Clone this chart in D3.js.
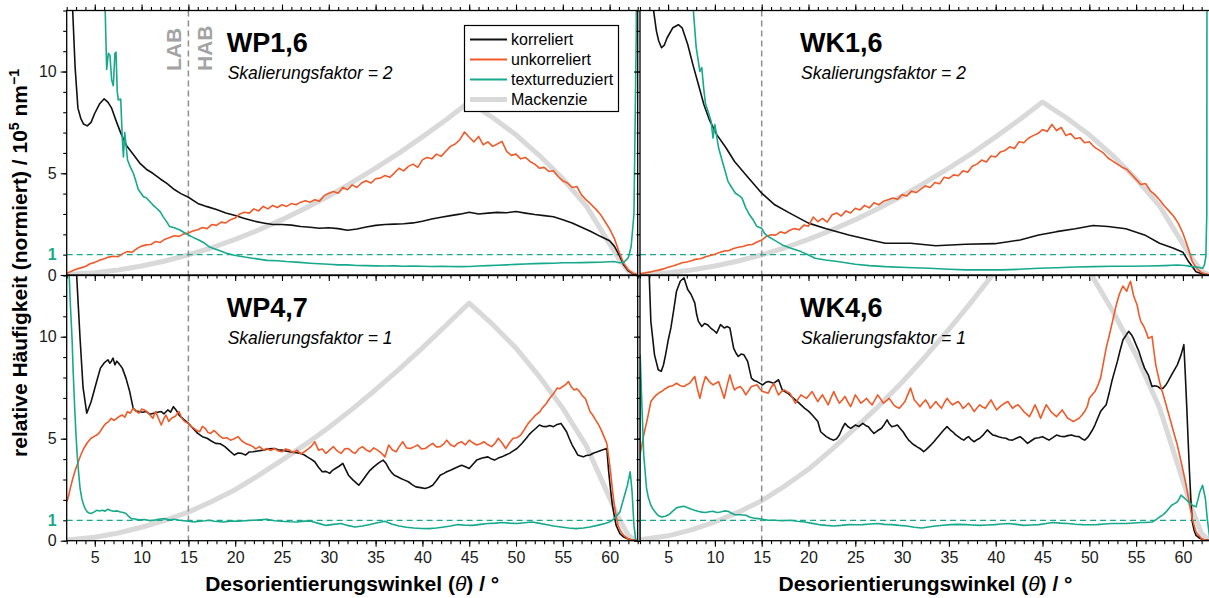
<!DOCTYPE html>
<html>
<head>
<meta charset="utf-8">
<script src="https://cdn.jsdelivr.net/npm/d3@7"></script>
<style>
  html, body { margin: 0; padding: 0; background: #fff; }
  svg { display: block; font-family: "Liberation Sans", Arial, Helvetica, sans-serif; }
</style>
</head>
<body>
<svg id="chart" width="1209" height="598"></svg>
<script>
// ---------- axis ticks / labels ----------
const xMajorTicks = [5, 10, 15, 20, 25, 30, 35, 40, 45, 50, 55, 60];
const xMinorTicks = d3.range(2, 64, 1);
const yMajorTicks = [0, 5, 10];
const yMinorTicks = d3.range(0, 14, 1);
const referenceLevel = 1;      // normalised level marked by the dashed line
const boundaryAngle = 15;      // LAB / HAB boundary
const seriesNames = ["korreliert", "unkorreliert", "texturreduziert", "Mackenzie"];

// ---------- Mackenzie reference curve ----------
const mackenzieAngles = [2, 5, 7.5, 10, 12.5, 15, 17.5, 20, 22.5, 25, 27.5, 30, 32.5, 35, 37.5, 40, 42.5, 45, 47.5, 50, 52.5, 55, 57.5, 60, 61, 62, 62.8];
const mackenzieWP16 = [0.02, 0.11, 0.25, 0.44, 0.69, 0.99, 1.34, 1.75, 2.21, 2.72, 3.28, 3.88, 4.55, 5.25, 5.99, 6.79, 7.62, 8.5, 7.74, 6.89, 5.87, 4.73, 3.4, 1.53, 0.79, 0.19, 0];
const mackenzieWK16 = [0.02, 0.11, 0.25, 0.44, 0.69, 0.99, 1.34, 1.75, 2.21, 2.72, 3.28, 3.88, 4.55, 5.25, 5.99, 6.79, 7.62, 8.5, 7.74, 6.89, 5.87, 4.73, 3.4, 1.53, 0.79, 0.19, 0];
const mackenzieWP47 = [0.03, 0.17, 0.38, 0.66, 1.0, 1.4, 1.92, 2.5, 3.2, 3.95, 4.72, 5.55, 6.45, 7.4, 8.4, 9.45, 10.55, 11.65, 10.6, 9.44, 8.04, 6.49, 4.66, 2.1, 1.08, 0.26, 0];
const mackenzieWK46 = [0.04, 0.24, 0.53, 0.92, 1.4, 1.96, 2.69, 3.5, 4.48, 5.53, 6.6, 7.77, 9.03, 10.36, 11.76, 13.23, 14.77, 16.3, 14.84, 13.2, 11.26, 9.09, 6.52, 2.94, 1.51, 0.36, 0];

// ---------- WP1,6 ----------
const wp16Korreliert = [[2,22],[2.4,16],[2.64,13],[2.9,10.2],[3.2,8.2],[3.5,7.7],[3.8,7.42],[4.2,7.33],[4.6,7.5],[5,7.95],[5.5,8.4],[6,8.66],[6.4,8.5],[6.8,8.2],[7.3,7.55],[7.8,6.95],[8.4,6.35],[9,6.0],[9.8,5.5],[10.5,5.2],[11.2,5.0],[12,4.72],[12.7,4.5],[13.5,4.2],[14.2,4.0],[15,3.82],[16,3.52],[17,3.36],[18,3.22],[19,3.05],[20,2.92],[21,2.78],[22,2.65],[23,2.56],[24,2.48],[25,2.48],[26,2.45],[27,2.38],[28,2.35],[29,2.3],[30,2.32],[31,2.28],[32,2.2],[33,2.26],[34,2.36],[35,2.44],[36,2.48],[37,2.5],[38,2.52],[39,2.56],[40,2.64],[41,2.75],[42,2.84],[43,2.92],[44,2.99],[45,3.08],[46,3.0],[47,3.04],[48,3.08],[49,3.06],[50,3.12],[51,3.04],[52,2.97],[53,2.92],[54,2.86],[55,2.72],[56,2.56],[57,2.35],[58,2.14],[59,1.9],[60,1.68],[60.5,1.42],[61,1.0],[61.5,0.5],[62,0.2],[62.5,0.06],[63,0]];
const wp16Unkorreliert = [[2,0.08],[2.5,0.18],[3,0.28],[3.5,0.35],[4,0.42],[4.5,0.55],[5,0.62],[5.5,0.72],[6,0.8],[6.5,0.88],[7,0.92],[7.5,0.9],[8,1.05],[8.5,1.15],[9,1.12],[9.5,1.3],[10,1.42],[10.5,1.48],[11,1.5],[11.5,1.65],[12,1.6],[12.5,1.76],[13,1.84],[13.5,1.93],[14,1.9],[14.5,2.02],[15,2.06],[15.5,2.17],[16,2.22],[16.5,2.33],[17,2.28],[17.5,2.48],[18,2.44],[18.5,2.6],[19,2.56],[19.5,2.72],[20,2.8],[20.5,3.0],[21,3.08],[21.5,3.04],[22,3.25],[22.5,3.15],[23,3.37],[23.5,3.25],[24,3.42],[24.5,3.32],[25,3.45],[25.5,3.37],[26,3.51],[26.5,3.45],[27,3.58],[27.5,3.65],[28,3.58],[28.5,3.7],[29,3.62],[29.5,3.9],[30,4.02],[30.5,4.1],[31,4.02],[31.5,4.3],[32,4.19],[32.5,4.43],[33,4.3],[33.5,4.52],[34,4.63],[34.5,4.52],[35,4.73],[35.5,4.76],[36,4.89],[36.5,4.8],[37,5.01],[37.5,5.25],[38,5.12],[38.5,5.34],[39,5.45],[39.5,5.29],[40,5.66],[40.5,5.78],[41,5.71],[41.5,5.94],[42,5.83],[42.5,6.08],[43,6.32],[43.5,6.44],[44,6.65],[44.5,7.03],[45,6.77],[45.5,6.54],[46,6.81],[46.5,6.4],[47,6.54],[47.5,6.32],[48,6.44],[48.5,6.57],[49,6.08],[49.5,5.88],[50,5.94],[50.5,5.71],[51,5.78],[51.5,5.58],[52,5.45],[52.5,5.25],[53,5.29],[53.5,5.09],[54,5.12],[54.5,4.84],[55,4.63],[55.5,4.52],[56,4.3],[56.5,4.35],[57,3.94],[57.5,3.69],[58,3.48],[58.5,3.25],[59,2.99],[59.5,2.63],[60,2.27],[60.5,1.8],[61,1.15],[61.5,0.57],[62,0.25],[62.5,0.08],[63,0]];
const wp16Texturreduziert = [[2,40],[3,34],[4,28],[5,22],[5.8,16],[6.1,13.2],[6.27,10.1],[6.45,10.9],[6.62,10.8],[6.8,9.6],[6.98,9.3],[7.15,10.9],[7.27,10.95],[7.4,9.0],[7.52,8.6],[7.77,8.65],[7.95,6.6],[8.06,5.8],[8.2,7.0],[8.38,6.2],[8.5,5.65],[8.8,5.3],[9.12,5.0],[9.4,4.6],[9.65,4.2],[10.2,3.85],[10.5,3.8],[10.9,3.6],[11.2,3.45],[11.6,3.28],[12,3.1],[12.3,2.87],[12.7,2.6],[13,2.38],[13.5,2.32],[14.1,2.21],[14.5,2.1],[15,1.97],[15.5,1.85],[16.1,1.72],[16.6,1.6],[17.2,1.39],[17.7,1.3],[18.3,1.2],[19,1.08],[19.8,0.98],[20.5,0.92],[21.5,0.85],[22.5,0.78],[23.4,0.72],[24.5,0.7],[25.5,0.66],[26.9,0.62],[28,0.58],[29,0.55],[30,0.53],[31,0.5],[32,0.5],[33,0.47],[34,0.46],[35,0.45],[36,0.44],[37,0.45],[38,0.43],[39,0.44],[40,0.43],[41,0.42],[42,0.43],[43,0.42],[44,0.41],[45,0.42],[46,0.44],[47,0.46],[48,0.48],[49,0.5],[50,0.52],[51,0.54],[52,0.56],[53,0.57],[54,0.58],[55,0.6],[56,0.6],[57,0.61],[58,0.62],[59,0.63],[60,0.65],[60.5,0.66],[61,0.6],[61.5,0.62],[62,0.85],[62.3,1.4],[62.6,3],[62.85,12],[62.95,30]];

// ---------- WK1,6 ----------
const wk16Korreliert = [[2,25],[2.8,17],[3.36,13.3],[3.75,12.0],[4.0,11.5],[4.3,11.17],[4.6,11.3],[4.9,11.66],[5.5,12.15],[6.1,12.3],[6.5,12.15],[7.1,11.33],[7.65,10.34],[8.24,9.36],[8.83,8.37],[9.4,7.64],[10.2,6.9],[11.2,6.24],[12.1,5.58],[13.3,4.93],[14.2,4.45],[15,4.02],[16.4,3.45],[18,3.04],[20,2.55],[21.9,2.27],[24.3,1.97],[26.6,1.72],[28.2,1.56],[30.9,1.56],[33.6,1.44],[36.8,1.51],[39.9,1.54],[42.6,1.72],[44.6,1.97],[46.5,2.13],[48.5,2.27],[50.4,2.43],[52,2.38],[53.9,2.27],[55.9,1.97],[57.5,1.56],[59,1.31],[60,1.12],[60.6,0.66],[61.4,0.16],[62.2,0.03],[63,0]];
const wk16Unkorreliert = [[2,0.06],[2.5,0.1],[3,0.14],[3.5,0.2],[4,0.24],[4.5,0.3],[5,0.38],[5.5,0.44],[6,0.52],[6.5,0.6],[7,0.64],[7.5,0.7],[8,0.78],[8.5,0.8],[9,0.9],[9.5,0.96],[10,1.02],[10.5,1.1],[11,1.18],[11.5,1.2],[12,1.3],[12.5,1.36],[13,1.4],[13.5,1.48],[14,1.5],[14.5,1.62],[15,1.72],[15.5,1.9],[16,1.98],[16.5,1.96],[17,2.12],[17.5,2.05],[18,2.2],[18.5,2.28],[19,2.22],[19.5,2.45],[20,2.4],[20.5,2.85],[21,2.62],[21.5,2.78],[22,2.6],[22.5,2.95],[23,3.05],[23.5,2.9],[24,3.15],[24.5,3.05],[25,3.28],[25.5,3.2],[26,3.42],[26.5,3.3],[27,3.55],[27.5,3.45],[28,3.62],[28.5,3.7],[29,3.78],[29.5,3.72],[30,3.95],[30.5,3.88],[31,4.12],[31.5,4.05],[32,4.22],[32.5,4.38],[33,4.3],[33.5,4.55],[34,4.48],[34.5,4.8],[35,4.75],[35.5,4.92],[36,4.88],[36.5,5.12],[37,5.05],[37.5,5.35],[38,5.45],[38.5,5.65],[39,5.55],[39.5,5.85],[40,5.8],[40.5,6.05],[41,6.12],[41.5,6.3],[42,6.22],[42.5,6.55],[43,6.5],[43.5,6.72],[44,6.85],[44.5,6.95],[45,7.15],[45.5,7.05],[46,7.4],[46.5,7.1],[47,7.25],[47.5,6.85],[48,6.95],[48.5,6.7],[49,6.75],[49.5,6.5],[50,6.55],[50.5,6.3],[51,6.15],[51.5,6.0],[52,5.75],[52.5,5.6],[53,5.45],[53.5,5.3],[54,5.2],[54.5,4.95],[55,4.7],[55.5,4.45],[56,4.5],[56.5,4.15],[57,3.95],[57.5,3.7],[58,3.4],[58.5,3.15],[59,2.9],[59.5,2.55],[60,2.05],[60.5,1.4],[61,0.66],[61.5,0.3],[62,0.12],[62.5,0.03],[63,0]];
const wk16Texturreduziert = [[2,40],[4,32],[6,22],[7,17],[7.65,13.3],[8.0,11.2],[8.4,10.0],[8.6,10.2],[8.8,9.2],[9.0,8.4],[9.3,8.0],[9.6,7.55],[9.8,6.73],[10.0,7.39],[10.2,6.8],[10.4,6.24],[10.8,5.58],[11.1,5.1],[11.4,4.6],[11.8,4.3],[12.2,4.02],[12.6,3.9],[12.9,3.78],[13.3,3.3],[13.7,2.96],[14.1,2.7],[14.5,2.38],[15,2.3],[15.3,2.05],[15.7,1.89],[16.4,1.7],[17.2,1.48],[18.2,1.3],[19.2,1.15],[20,0.98],[20.7,0.82],[21.8,0.74],[23.1,0.66],[25,0.53],[26.5,0.46],[28.2,0.41],[30.5,0.37],[32.9,0.33],[35,0.28],[36.8,0.25],[38.8,0.25],[40.7,0.25],[42.5,0.28],[44.6,0.33],[46.5,0.36],[48.5,0.39],[50.5,0.41],[52.4,0.43],[54.5,0.43],[56.3,0.44],[58,0.46],[59.4,0.49],[60.2,0.47],[61,0.41],[61.6,0.38],[62.1,0.33],[62.3,0.5],[62.45,0.9],[62.55,3],[62.6,30]];

// ---------- WP4,7 ----------
const wp47Korreliert = [[2,25],[2.6,18],[3.04,13.2],[3.43,9.9],[3.75,7.5],[4.14,6.25],[4.6,6.8],[5.2,7.8],[5.6,8.46],[5.98,8.7],[6.4,8.87],[6.6,8.7],[6.76,8.79],[6.95,8.95],[7.15,8.62],[7.35,8.8],[7.55,8.7],[7.94,8.46],[8.33,7.97],[8.73,7.31],[9.1,6.5],[9.4,6.35],[9.7,6.33],[10.1,6.3],[10.5,6.33],[10.9,6.2],[11.3,6.25],[11.7,6.3],[12.1,6.33],[12.4,6.22],[12.8,6.41],[13.1,6.3],[13.4,6.57],[13.7,6.4],[14,6.16],[14.5,5.95],[15,5.75],[15.5,5.5],[16,5.26],[16.5,5.1],[17,5.02],[17.4,4.9],[17.9,4.77],[18.4,4.75],[18.9,4.61],[19.4,4.4],[19.9,4.2],[20.3,4.3],[20.7,4.28],[21.1,4.2],[21.5,4.35],[21.9,4.36],[22.4,4.4],[23,4.44],[23.5,4.5],[24.2,4.52],[24.6,4.46],[25,4.44],[25.4,4.4],[25.8,4.36],[26.4,4.32],[27,4.28],[27.4,4.2],[27.7,4.11],[28.1,4.0],[28.5,3.87],[28.9,3.6],[29.3,3.38],[29.7,3.4],[30.1,3.3],[30.4,3.45],[30.7,3.54],[31.1,3.65],[31.5,3.79],[31.8,3.5],[32.1,3.21],[32.6,2.97],[32.9,2.85],[33.2,2.72],[33.6,2.95],[34,3.21],[34.4,3.45],[34.8,3.62],[35.3,3.8],[35.8,3.95],[36.1,3.8],[36.4,3.54],[36.7,3.35],[37,3.21],[37.4,3.12],[37.7,3.05],[38.1,2.97],[38.5,2.89],[38.9,2.75],[39.3,2.64],[39.8,2.6],[40.3,2.56],[40.7,2.62],[41.1,2.72],[41.5,2.95],[41.9,3.21],[42.3,3.3],[42.6,3.38],[43,3.45],[43.4,3.54],[43.8,3.62],[44.2,3.7],[44.6,3.62],[45,3.54],[45.4,3.75],[45.8,3.95],[46.4,4.05],[47,4.11],[47.4,4.0],[47.7,3.95],[48.1,4.05],[48.5,4.11],[48.9,4.2],[49.3,4.28],[49.7,4.4],[50.1,4.52],[50.6,4.75],[51.1,5.02],[51.4,5.2],[51.7,5.34],[52.1,5.5],[52.5,5.67],[52.9,5.6],[53.2,5.59],[53.6,5.65],[54,5.59],[54.4,5.7],[54.8,5.75],[55.1,5.55],[55.4,5.34],[55.7,5.0],[56,4.69],[56.3,4.45],[56.6,4.2],[56.9,4.15],[57.2,4.11],[57.5,4.18],[57.9,4.2],[58.3,4.3],[58.7,4.36],[59.2,4.45],[59.7,4.52],[59.9,3.38],[60.1,2.5],[60.3,1.74],[60.5,1.2],[60.7,0.75],[61.1,0.34],[61.5,0.18],[61.9,0.1],[62.4,0.03],[63,0]];
const wp47Unkorreliert = [[2,1.9],[2.18,2.15],[2.4,2.6],[2.65,3.05],[2.95,3.5],[3.24,3.87],[3.5,4.2],[3.82,4.52],[4.2,4.8],[4.6,5.02],[4.9,5.1],[5.2,5.18],[5.5,5.3],[5.8,5.51],[6.0,5.65],[6.2,5.75],[6.5,5.85],[6.76,6.0],[7.05,5.9],[7.35,6.0],[7.65,6.1],[7.94,6.16],[8.2,6.05],[8.5,6.33],[8.8,6.25],[9.1,6.5],[9.4,6.35],[9.7,6.25],[10.0,6.45],[10.3,6.41],[10.6,6.3],[10.9,6.16],[11.2,6.0],[11.5,6.33],[11.8,6.0],[12.1,5.67],[12.4,6.0],[12.6,6.16],[12.9,5.85],[13.2,6.0],[13.6,6.1],[14,6.33],[14.3,6.0],[14.6,5.84],[15,5.75],[15.3,5.6],[15.6,5.51],[15.9,5.4],[16.2,5.34],[16.5,5.6],[16.8,5.51],[17.1,5.3],[17.4,5.26],[17.7,5.4],[17.9,5.34],[18.3,5.15],[18.7,5.02],[19.1,5.05],[19.5,4.93],[19.9,5.0],[20.3,5.1],[20.7,4.9],[21.1,4.77],[21.5,4.7],[21.9,4.61],[22.2,4.5],[22.6,4.61],[23,4.45],[23.4,4.52],[23.8,4.42],[24.2,4.52],[24.6,4.4],[25,4.36],[25.4,4.5],[25.8,4.44],[26.2,4.3],[26.6,4.44],[27,4.25],[27.4,4.36],[27.8,4.5],[28.1,4.61],[28.5,4.85],[28.9,4.44],[29.3,4.5],[29.7,4.28],[30.1,4.45],[30.5,4.61],[30.9,4.4],[31.3,4.28],[31.7,4.5],[32.1,4.52],[32.5,4.35],[32.8,4.28],[33.2,4.5],[33.6,4.61],[34,4.45],[34.4,4.36],[34.8,4.55],[35.2,4.44],[35.6,4.3],[36,4.11],[36.4,4.69],[36.8,4.45],[37.2,4.36],[37.5,4.6],[37.9,4.85],[38.3,4.55],[38.7,4.52],[39.1,4.6],[39.5,4.69],[39.9,4.5],[40.3,4.52],[40.7,4.65],[41.1,4.77],[41.5,4.6],[41.9,4.61],[42.3,4.75],[42.6,4.93],[43,4.7],[43.4,4.61],[43.8,4.78],[44.2,4.85],[44.6,4.7],[45,4.93],[45.4,4.8],[45.8,4.69],[46.2,4.75],[46.6,4.85],[47,4.7],[47.4,4.61],[47.8,4.8],[48.1,5.02],[48.5,4.8],[48.9,4.52],[49.3,4.8],[49.7,5.02],[50.1,5.05],[50.5,5.18],[50.9,5.45],[51.3,5.75],[51.7,5.95],[52.1,6.16],[52.5,6.3],[52.8,6.5],[53.2,6.7],[53.6,6.98],[54,7.2],[54.4,7.48],[54.7,7.45],[55,7.56],[55.3,7.65],[55.6,7.8],[55.9,7.55],[56.2,7.39],[56.5,7.45],[56.8,7.31],[57.1,7.1],[57.4,6.98],[57.7,6.6],[57.9,6.33],[58.2,6.15],[58.5,5.92],[58.8,5.7],[59.1,5.43],[59.4,5.1],[59.7,4.77],[59.9,4.1],[60.1,3.38],[60.3,2.5],[60.5,1.74],[60.7,1.2],[60.9,0.75],[61.2,0.45],[61.5,0.26],[61.9,0.12],[62.3,0.05],[63,0]];
const wp47Texturreduziert = [[2,30],[2.25,13.2],[2.4,11.5],[2.57,9.93],[2.7,8.2],[2.84,6.66],[2.98,5.3],[3.12,4.2],[3.28,3.3],[3.43,2.56],[3.62,2.05],[3.82,1.74],[4.0,1.55],[4.2,1.41],[4.4,1.36],[4.6,1.33],[4.9,1.4],[5.2,1.49],[5.5,1.46],[5.8,1.49],[6.1,1.45],[6.4,1.54],[6.7,1.48],[7,1.44],[7.4,1.46],[7.75,1.41],[8.05,1.38],[8.33,1.33],[8.6,1.2],[8.9,1.08],[9.3,1.06],[9.7,1.02],[10.3,1.04],[10.9,0.98],[11.5,1.02],[12,1.06],[12.5,1.08],[13,1.03],[13.5,1.05],[14,1.0],[14.5,0.98],[15,0.96],[15.6,0.92],[16.2,0.96],[16.8,0.98],[17.2,1.0],[17.8,0.95],[18.7,0.92],[19.5,0.96],[20.3,0.95],[21.1,0.98],[21.9,1.0],[22.6,1.02],[23.4,1.05],[24.2,0.98],[25,0.95],[25.8,0.93],[26.6,0.92],[27.4,0.96],[28.1,0.95],[28.9,0.85],[29.7,0.75],[30.5,0.8],[31.3,0.84],[32,0.75],[32.8,0.67],[33.6,0.72],[34.4,0.79],[35.2,0.88],[36,0.95],[36.7,0.82],[37.5,0.72],[38.3,0.66],[39.1,0.62],[39.9,0.6],[40.7,0.59],[41.5,0.62],[42.3,0.67],[43,0.72],[43.8,0.79],[44.6,0.76],[45.4,0.75],[46.2,0.8],[47,0.84],[47.8,0.86],[48.5,0.89],[49.3,0.86],[50.1,0.84],[50.9,0.88],[51.7,0.92],[52.4,0.86],[53.2,0.79],[54,0.72],[54.8,0.67],[55.6,0.62],[56.4,0.59],[57.2,0.62],[57.9,0.67],[58.7,0.75],[59.5,0.84],[60,0.92],[60.3,1.0],[60.7,1.2],[61.1,1.41],[61.5,2.07],[61.9,2.72],[62.2,3.38],[62.4,2.39],[62.6,0.75],[62.8,0]];

// ---------- WK4,6 ----------
const wk46Korreliert = [[2,30],[2.6,18],[2.97,13.2],[3.16,10.75],[3.55,9.11],[3.95,8.38],[4.26,8.3],[4.5,8.6],[4.73,9.11],[5.0,9.8],[5.3,10.43],[5.6,11.3],[5.9,12.23],[6.3,12.72],[6.7,12.89],[6.9,12.6],[7.1,12.31],[7.46,12.07],[7.85,11.66],[8.05,11.1],[8.24,10.75],[8.6,10.5],[8.9,10.65],[9.2,10.59],[9.5,10.45],[9.8,10.34],[10.2,10.18],[10.6,10.59],[11,10.43],[11.3,10.5],[11.6,10.43],[12,9.44],[12.25,9.2],[12.5,9.03],[12.8,9.15],[13.1,9.11],[13.5,8.79],[13.9,7.97],[14.2,7.85],[14.5,7.8],[15.1,7.64],[15.4,7.75],[15.7,7.8],[16.3,7.72],[16.8,7.89],[17.2,7.39],[17.8,7.23],[18.4,6.98],[19,6.74],[19.6,6.49],[20,6.35],[20.4,6.16],[21,5.84],[21.3,5.34],[21.9,5.1],[22.3,5.0],[22.7,4.93],[23,5.0],[23.3,5.18],[23.6,5.5],[23.9,5.75],[24.2,5.6],[24.5,5.51],[25,5.67],[25.4,5.6],[25.8,5.75],[26.1,5.65],[26.4,5.59],[26.7,5.4],[27,5.26],[27.4,5.4],[27.8,5.51],[28.1,5.7],[28.4,5.92],[28.6,5.75],[28.9,5.59],[29.2,5.62],[29.5,5.67],[29.8,5.5],[30.1,5.34],[30.4,5.12],[30.7,4.93],[31,4.8],[31.3,4.69],[31.6,4.6],[31.9,4.52],[32.1,4.45],[32.3,4.36],[32.6,4.48],[32.9,4.61],[33.2,4.75],[33.4,4.85],[33.7,5.02],[34,5.18],[34.4,5.4],[34.8,5.59],[35.1,5.45],[35.4,5.34],[35.7,5.2],[36,5.1],[36.3,5.0],[36.6,4.93],[36.9,5.05],[37.1,5.1],[37.4,4.95],[37.7,4.85],[38,4.95],[38.3,5.02],[38.7,5.2],[39.1,5.43],[39.4,5.3],[39.7,5.18],[40,5.15],[40.3,5.1],[40.7,5.05],[41.1,5.02],[41.4,4.95],[41.8,4.93],[42.2,5.02],[42.6,5.1],[43,4.95],[43.4,4.77],[43.8,4.9],[44.2,5.02],[44.6,5.05],[45,5.1],[45.4,5.0],[45.7,4.93],[46.1,5.05],[46.5,5.18],[46.9,5.12],[47.3,5.1],[47.7,5.15],[48.1,5.18],[48.5,5.12],[48.9,5.1],[49.2,5.0],[49.5,4.93],[49.8,5.05],[50,5.18],[50.3,5.4],[50.6,5.67],[50.9,6.0],[51.2,6.33],[51.5,6.5],[51.8,6.66],[52.1,7.2],[52.4,7.8],[52.7,8.3],[53,8.79],[53.3,9.35],[53.6,9.85],[53.9,10.05],[54.2,10.26],[54.5,10.1],[54.7,9.93],[55,9.6],[55.3,9.28],[55.6,8.85],[55.9,8.46],[56.3,8.13],[56.7,7.56],[57,7.6],[57.3,7.56],[57.6,7.45],[57.9,7.48],[58.2,7.65],[58.4,7.8],[58.7,8.05],[59,8.3],[59.4,8.62],[59.8,9.11],[60.1,9.61],[60.25,8.2],[60.4,6.66],[60.55,5.0],[60.7,3.38],[60.85,2.0],[61,0.92],[61.2,0.5],[61.4,0.26],[61.8,0.12],[62.2,0.05],[63,0]];
const wk46Unkorreliert = [[2,4.2],[2.4,5.18],[2.8,6.0],[3.16,6.82],[3.45,7.0],[3.75,7.15],[4.05,7.25],[4.3,7.31],[4.7,7.45],[5.1,7.56],[5.5,7.6],[5.9,7.72],[6.3,7.6],[6.7,7.56],[7.0,7.65],[7.3,7.72],[7.6,7.9],[7.85,8.05],[8.1,7.5],[8.4,6.98],[8.7,7.6],[9,8.05],[9.4,7.8],[9.8,7.64],[10.1,7.72],[10.4,7.8],[10.7,7.4],[11,6.98],[11.3,7.6],[11.6,8.13],[11.85,7.7],[12.1,7.39],[12.4,7.5],[12.7,7.56],[13,7.4],[13.3,7.15],[13.6,7.35],[13.9,7.56],[14.2,7.6],[14.5,7.64],[14.8,7.45],[15.1,7.31],[15.4,7.28],[15.7,7.23],[16,7.5],[16.3,7.72],[16.55,7.4],[16.8,7.15],[17.1,7.3],[17.4,7.39],[17.7,7.3],[18,7.23],[18.3,7.0],[18.6,6.74],[18.9,6.95],[19.2,7.15],[19.5,7.05],[19.8,6.98],[20.1,7.15],[20.4,7.31],[20.7,7.05],[21,6.82],[21.25,7.0],[21.5,7.15],[21.8,6.9],[22.1,6.66],[22.4,7.0],[22.7,7.31],[23,7.0],[23.3,6.74],[23.6,6.9],[23.9,7.07],[24.2,6.8],[24.5,6.57],[24.75,6.85],[25,7.15],[25.3,6.95],[25.6,6.74],[25.9,6.85],[26.2,6.98],[26.5,6.8],[26.8,6.66],[27.1,6.9],[27.4,7.15],[27.7,6.95],[28,6.74],[28.3,6.85],[28.6,6.98],[28.9,6.8],[29.1,6.66],[29.4,6.55],[29.7,6.49],[30,6.65],[30.3,6.82],[30.6,7.15],[30.9,7.48],[31.1,7.2],[31.3,6.9],[31.6,6.75],[31.9,6.57],[32.2,6.75],[32.5,6.9],[32.8,6.7],[33,6.49],[33.3,6.65],[33.6,6.82],[33.9,6.65],[34.2,6.49],[34.5,6.75],[34.8,6.98],[35.1,6.8],[35.4,6.66],[35.7,6.75],[36,6.82],[36.3,6.65],[36.5,6.49],[36.8,6.6],[37.1,6.74],[37.4,6.55],[37.7,6.33],[38,6.5],[38.3,6.66],[38.6,6.55],[38.9,6.49],[39.2,6.7],[39.5,6.9],[39.8,6.65],[40.1,6.41],[40.4,6.55],[40.7,6.66],[41,6.75],[41.3,6.82],[41.55,6.65],[41.8,6.49],[42.1,6.6],[42.4,6.66],[42.7,6.5],[43,6.33],[43.3,6.2],[43.6,6.08],[43.9,6.35],[44.2,6.66],[44.5,6.35],[44.8,6.0],[45.1,6.35],[45.4,6.66],[45.65,6.5],[45.9,6.33],[46.2,6.2],[46.5,6.08],[46.8,6.25],[47.1,6.41],[47.4,6.2],[47.7,6.0],[48,5.92],[48.3,5.84],[48.6,5.92],[48.9,6.0],[49.2,6.15],[49.5,6.33],[49.8,6.6],[50,6.98],[50.3,7.15],[50.6,7.31],[50.9,7.6],[51.2,7.97],[51.5,8.7],[51.8,9.44],[52.1,10.0],[52.4,10.59],[52.6,11.0],[52.8,11.41],[53,11.75],[53.2,12.07],[53.4,12.3],[53.6,12.48],[53.8,12.35],[54,12.23],[54.2,12.5],[54.4,12.72],[54.55,12.4],[54.7,12.07],[54.9,11.8],[55.1,11.57],[55.3,11.1],[55.5,10.75],[55.7,10.6],[55.9,10.43],[56.1,10.2],[56.3,9.93],[56.5,9.95],[56.7,10.02],[56.9,9.3],[57.1,8.62],[57.3,8.2],[57.5,7.8],[57.7,7.45],[57.9,7.15],[58.2,6.66],[58.6,6.0],[59,5.34],[59.4,4.69],[59.8,3.87],[60.2,3.05],[60.6,2.07],[61,1.08],[61.4,0.43],[62,0.1],[62.5,0.02],[63,0]];
const wk46Texturreduziert = [[2,0],[2.02,9.1],[2.2,6.66],[2.4,4.2],[2.7,2.56],[2.9,2.1],[3.16,1.74],[3.45,1.5],[3.75,1.33],[4.0,1.22],[4.3,1.16],[4.7,1.2],[5.1,1.28],[5.5,1.45],[5.9,1.61],[6.3,1.66],[6.7,1.69],[7.1,1.62],[7.5,1.54],[7.9,1.48],[8.2,1.44],[8.6,1.4],[9,1.38],[9.4,1.42],[9.8,1.44],[10.2,1.38],[10.6,1.41],[11,1.46],[11.4,1.44],[11.8,1.35],[12.1,1.28],[12.7,1.27],[13.3,1.25],[13.7,1.16],[14.1,1.11],[14.6,1.08],[15.1,1.05],[15.7,1.0],[16.4,1.0],[17.2,0.98],[18,1.0],[18.8,0.95],[19.6,0.92],[20.4,0.85],[21.1,0.79],[21.9,0.75],[22.7,0.72],[23.5,0.75],[24.3,0.79],[25,0.78],[25.8,0.79],[26.6,0.82],[27.4,0.84],[28.1,0.8],[28.9,0.79],[29.7,0.75],[30.5,0.72],[31.3,0.66],[32.1,0.62],[32.8,0.67],[33.6,0.72],[34.4,0.76],[35.2,0.79],[36,0.8],[36.8,0.79],[37.5,0.77],[38.3,0.75],[39.1,0.77],[39.9,0.79],[40.6,0.82],[41.4,0.84],[42.2,0.8],[43,0.75],[43.8,0.77],[44.6,0.79],[45.4,0.84],[46.1,0.89],[46.9,0.86],[47.7,0.84],[48.5,0.81],[49.3,0.79],[50,0.78],[50.8,0.79],[51.6,0.82],[52.4,0.84],[53.2,0.84],[53.9,0.84],[54.7,0.87],[55.5,0.89],[56.1,0.9],[56.7,0.92],[57.1,1.02],[57.5,1.16],[57.9,1.28],[58.2,1.41],[58.5,1.58],[58.8,1.74],[59.1,1.82],[59.4,1.9],[59.6,2.05],[59.8,2.23],[60,2.15],[60.2,2.07],[60.6,1.9],[61,1.74],[61.4,1.66],[61.6,2.0],[61.8,2.39],[62.1,2.72],[62.4,2.07],[62.6,1.08],[62.9,0]];

// ---------- panel setup ----------
const colours = {
  korreliert: "#111111",
  unkorreliert: "#F05A28",
  texturreduziert: "#17A98C",
  mackenzie: "#D9D9D9",
  boundary: "#8E8E8E",
  labText: "#A3A3A3"
};

const panels = [
  { name: "WP1,6", factor: "Skalierungsfaktor = 2", col: 0, row: 0, kor: wp16Korreliert, unk: wp16Unkorreliert, tex: wp16Texturreduziert, mack: mackenzieWP16, legend: true, lab: true },
  { name: "WK1,6", factor: "Skalierungsfaktor = 2", col: 1, row: 0, kor: wk16Korreliert, unk: wk16Unkorreliert, tex: wk16Texturreduziert, mack: mackenzieWK16 },
  { name: "WP4,7", factor: "Skalierungsfaktor = 1", col: 0, row: 1, kor: wp47Korreliert, unk: wp47Unkorreliert, tex: wp47Texturreduziert, mack: mackenzieWP47 },
  { name: "WK4,6", factor: "Skalierungsfaktor = 1", col: 1, row: 1, kor: wk46Korreliert, unk: wk46Unkorreliert, tex: wk46Texturreduziert, mack: mackenzieWK46 }
];

const colLeft = [66.7, 640];
const panelWidth = 571;
const rowExtent = [[10.5, 275], [275.5, 540.7]];   // [top, bottom]

const svg = d3.select("#chart");

panels.forEach((p, i) => {
  const x0 = colLeft[p.col], x1 = x0 + panelWidth;
  const [yTop, yBot] = rowExtent[p.row];
  const x = d3.scaleLinear().domain([2, 63]).range([x0, x1]);
  const y = d3.scaleLinear().domain([0, 13]).range([yBot, yTop]);
  const line = d3.line().x(d => x(d[0])).y(d => y(d[1]));

  const clipId = "clip" + i;
  svg.append("clipPath").attr("id", clipId)
    .append("rect").attr("x", x0).attr("y", yTop).attr("width", x1 - x0).attr("height", yBot - yTop);

  const g = svg.append("g");
  const plot = g.append("g").attr("clip-path", `url(#${clipId})`);

  // Mackenzie distribution
  const mackPts = mackenzieAngles.map((a, k) => [a, p.mack[k]]);
  plot.append("path").datum(mackPts).attr("d", line)
    .attr("fill", "none").attr("stroke", colours.mackenzie).attr("stroke-width", 5)
    .attr("stroke-linejoin", "round");

  // reference level 1
  plot.append("line")
    .attr("x1", x0).attr("x2", x1).attr("y1", y(referenceLevel)).attr("y2", y(referenceLevel))
    .attr("stroke", colours.texturreduziert).attr("stroke-width", 1.2).attr("stroke-dasharray", "6,4");

  // LAB / HAB boundary
  plot.append("line")
    .attr("x1", x(boundaryAngle)).attr("x2", x(boundaryAngle)).attr("y1", yTop).attr("y2", yBot)
    .attr("stroke", colours.boundary).attr("stroke-width", 1.5).attr("stroke-dasharray", "6,4");

  // measured distributions
  [[p.kor, colours.korreliert], [p.unk, colours.unkorreliert], [p.tex, colours.texturreduziert]].forEach(([data, c]) => {
    plot.append("path").datum(data).attr("d", line)
      .attr("fill", "none").attr("stroke", c).attr("stroke-width", 1.6)
      .attr("stroke-linejoin", "round");
  });

  // frame
  g.append("rect").attr("x", x0).attr("y", yTop).attr("width", x1 - x0).attr("height", yBot - yTop)
    .attr("fill", "none").attr("stroke", "#000").attr("stroke-width", 1.3);

  // x axes
  const showXLabels = p.row === 1;
  const bottomMinor = g.append("g").attr("transform", `translate(0,${yBot})`)
    .call(d3.axisBottom(x).tickValues(xMinorTicks).tickSize(3.5).tickFormat(""));
  const bottomMajor = g.append("g").attr("transform", `translate(0,${yBot})`)
    .call(d3.axisBottom(x).tickValues(xMajorTicks).tickSize(6).tickPadding(5)
      .tickFormat(showXLabels ? d3.format("d") : ""));
  let axes = [bottomMinor, bottomMajor];
  if (p.row === 0) {
    axes.push(g.append("g").attr("transform", `translate(0,${yTop})`)
      .call(d3.axisTop(x).tickValues(xMinorTicks).tickSize(3.5).tickFormat("")));
    axes.push(g.append("g").attr("transform", `translate(0,${yTop})`)
      .call(d3.axisTop(x).tickValues(xMajorTicks).tickSize(6).tickFormat("")));
  }

  // y axes
  const showYLabels = p.col === 0;
  axes.push(g.append("g").attr("transform", `translate(${x0},0)`)
    .call(d3.axisLeft(y).tickValues(yMinorTicks).tickSize(3.5).tickFormat("")));
  axes.push(g.append("g").attr("transform", `translate(${x0},0)`)
    .call(d3.axisLeft(y).tickValues(yMajorTicks).tickSize(6).tickPadding(4)
      .tickFormat(showYLabels ? d3.format("d") : "")));

  axes.forEach(a => {
    a.select(".domain").remove();
    a.selectAll(".tick line").attr("stroke", "#000").attr("stroke-width", 1.1);
    a.selectAll(".tick text").attr("font-size", 16).attr("fill", "#1a1a1a")
      .attr("font-family", "Liberation Sans, Arial, sans-serif");
  });

  if (showYLabels) {
    g.append("text").attr("x", x0 - 10).attr("y", y(referenceLevel)).attr("dy", "0.35em")
      .attr("text-anchor", "end").attr("font-size", 16).attr("font-weight", "bold")
      .attr("fill", colours.texturreduziert).text(referenceLevel);
  }

  // panel title
  const tx = x0 + 160;
  g.append("text").attr("x", tx).attr("y", yTop + 41.5)
    .attr("font-size", 27).attr("font-weight", "bold").attr("fill", "#000").text(p.name);
  g.append("text").attr("x", tx + 1).attr("y", yTop + 68)
    .attr("font-size", 17.5).attr("font-style", "italic").attr("fill", "#000").text(p.factor);

  // LAB / HAB annotation
  if (p.lab) {
    g.append("text").attr("transform", `translate(${x(boundaryAngle) - 7},71) rotate(-90)`)
      .attr("font-size", 21).attr("font-weight", "bold").attr("fill", colours.labText).text("LAB");
    g.append("text").attr("transform", `translate(${x(boundaryAngle) + 24},71) rotate(-90)`)
      .attr("font-size", 21).attr("font-weight", "bold").attr("fill", colours.labText).text("HAB");
  }

  // legend
  if (p.legend) {
    const lg = g.append("g");
    lg.append("rect").attr("x", 464.5).attr("y", 25.5).attr("width", 154).attr("height", 86)
      .attr("fill", "#fff").attr("stroke", "#000").attr("stroke-width", 1.2);
    const legendItems = [
      { label: seriesNames[0], color: colours.korreliert, w: 1.8 },
      { label: seriesNames[1], color: colours.unkorreliert, w: 1.8 },
      { label: seriesNames[2], color: colours.texturreduziert, w: 1.8 },
      { label: seriesNames[3], color: colours.mackenzie, w: 5 }
    ];
    legendItems.forEach((it, k) => {
      const cy = 39.5 + k * 20;
      lg.append("line").attr("x1", 470).attr("x2", 507).attr("y1", cy).attr("y2", cy)
        .attr("stroke", it.color).attr("stroke-width", it.w);
      lg.append("text").attr("x", 511).attr("y", cy).attr("dy", "0.35em")
        .attr("font-size", 16).attr("fill", "#000").text(it.label);
    });
  }

  // x axis title (bottom row)
  if (p.row === 1) {
    const t = g.append("text").attr("x", (x0 + x1) / 2).attr("y", 591)
      .attr("text-anchor", "middle").attr("font-size", 21).attr("font-weight", "bold").attr("fill", "#000");
    t.append("tspan").text("Desorientierungswinkel (");
    t.append("tspan").attr("font-style", "italic").attr("font-weight", "normal").text("θ");
    t.append("tspan").text(") / °");
  }
});

// y axis title
const yt = svg.append("text").attr("transform", "translate(27,263) rotate(-90)")
  .attr("text-anchor", "middle").attr("font-size", 21).attr("font-weight", "bold").attr("fill", "#000");
yt.append("tspan").text("relative Häufigkeit (normiert) / 10");
yt.append("tspan").attr("dy", -8).attr("font-size", 14).text("5");
yt.append("tspan").attr("dy", 8).text(" nm");
yt.append("tspan").attr("dy", -8).attr("font-size", 14).text("−1");
</script>
</body>
</html>
